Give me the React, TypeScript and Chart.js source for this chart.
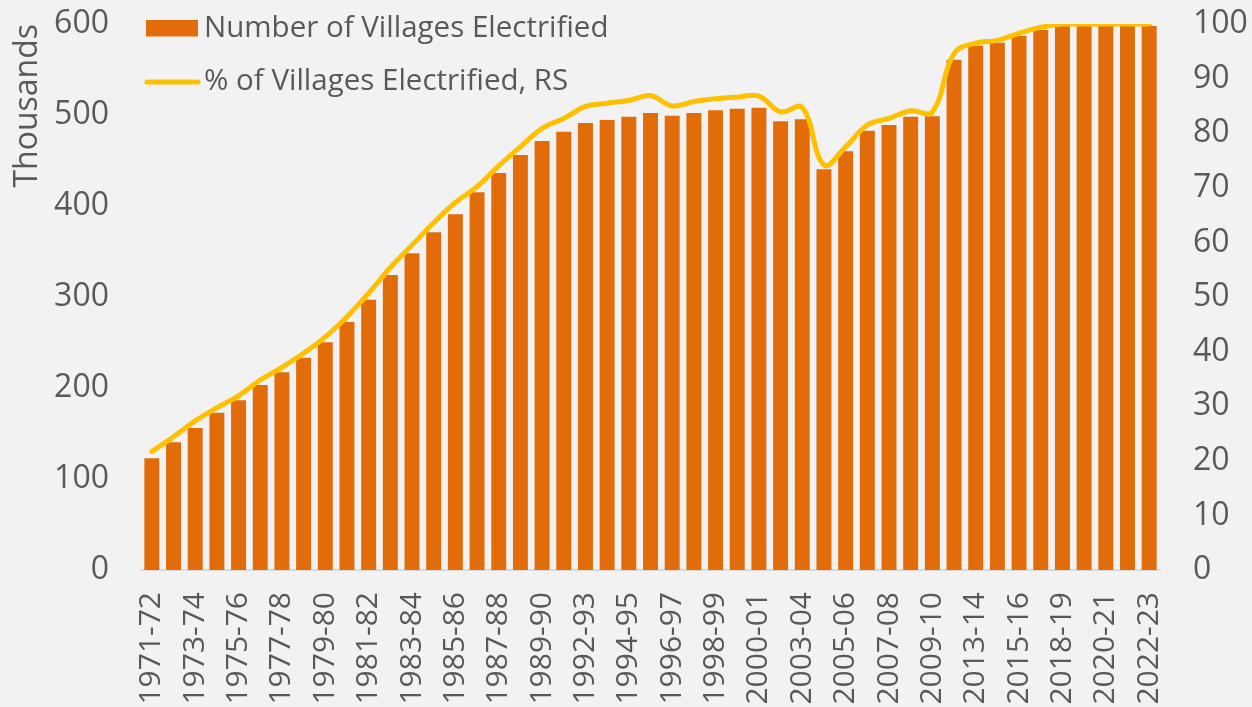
import React, { useEffect, useRef } from 'react';
import { Chart, registerables } from 'chart.js';

Chart.register(...registerables);

const categories = [
  '1971-72', '1972-73', '1973-74', '1974-75', '1975-76', '1976-77', '1977-78', '1978-79',
  '1979-80', '1980-81', '1981-82', '1982-83', '1983-84', '1984-85', '1985-86', '1986-87',
  '1987-88', '1988-89', '1989-90', '1990-91', '1992-93', '1993-94', '1994-95', '1995-96',
  '1996-97', '1997-98', '1998-99', '1999-00', '2000-01', '2001-02', '2003-04', '2004-05',
  '2005-06', '2006-07', '2007-08', '2008-09', '2009-10', '2011-12', '2013-14', '2014-15',
  '2015-16', '2017-18', '2018-19', '2019-20', '2020-21', '2021-22', '2022-23',
];

// Number of villages electrified (thousands)
const villagesElectrified = [
  122.7, 140.3, 156.0, 172.9, 186.5, 203.3, 217.2, 233.3, 250.2, 272.5, 297.0, 324.2,
  348.0, 371.1, 390.8, 415.0, 436.3, 456.0, 471.4, 481.7, 491.2, 494.5, 498.2, 502.2,
  499.3, 502.2, 505.1, 507.0, 508.1, 493.0, 495.2, 440.3, 460.1, 482.8, 489.0, 498.2,
  498.5, 560.8, 576.2, 579.5, 586.8, 593.4, 597.8, 597.8, 597.8, 597.8, 597.8,
];

// % of villages electrified (right scale)
const percentElectrified = [
  21.7, 24.4, 27.3, 29.7, 31.9, 34.8, 37.1, 39.7, 42.7, 46.4, 50.7, 55.4,
  59.5, 63.6, 67.3, 70.2, 74.0, 77.5, 80.9, 82.7, 84.9, 85.5, 86.0, 86.9,
  85.0, 85.8, 86.3, 86.6, 86.8, 83.9, 84.7, 74.2, 77.5, 81.5, 82.7, 84.1,
  83.9, 94.6, 96.5, 97.0, 98.3, 99.4, 100, 100, 100, 100, 100,
];

const seriesNames = ['Number of Villages Electrified', '% of Villages Electrified, RS'];
const leftAxisTitle = 'Thousands';

const BAR_COLOR = '#E36C0A';
const LINE_COLOR = '#FFC000';
const TEXT_COLOR = '#595959';
const BG = '#F2F2F2';
const FONT = "'Open Sans', sans-serif";

const legendPlugin = {
  id: 'insideLegend',
  afterDraw(chart: any) {
    const { ctx, chartArea } = chart;
    const x0 = chartArea.left + 5;
    ctx.save();
    ctx.font = `29.5px ${FONT}`;
    ctx.textBaseline = 'middle';
    ctx.textAlign = 'left';
    // bar item
    const y1 = chartArea.top + 4;
    ctx.fillStyle = BAR_COLOR;
    ctx.fillRect(x0, y1 - 8, 52, 16.5);
    ctx.fillStyle = TEXT_COLOR;
    ctx.fillText(chart.data.datasets[1].label, x0 + 58, y1 + 1);
    // line item
    const y2 = chartArea.top + 58;
    ctx.strokeStyle = LINE_COLOR;
    ctx.lineWidth = 5;
    ctx.lineCap = 'round';
    ctx.beginPath();
    ctx.moveTo(x0 + 1, y2);
    ctx.lineTo(x0 + 52, y2);
    ctx.stroke();
    ctx.fillStyle = TEXT_COLOR;
    ctx.fillText(chart.data.datasets[0].label, x0 + 58, y2);
    ctx.restore();
  },
};

const bgPlugin = {
  id: 'bg',
  beforeDraw(chart: any) {
    const { ctx, width, height } = chart;
    ctx.save();
    ctx.fillStyle = BG;
    ctx.fillRect(0, 0, width, height);
    ctx.restore();
  },
};

const noPad = (scale: any) => {
  scale.paddingTop = 0;
  scale.paddingBottom = 0;
  scale.paddingLeft = 0;
  scale.paddingRight = 0;
};

export default function App() {
  const canvasRef = useRef<HTMLCanvasElement | null>(null);

  useEffect(() => {
    if (!canvasRef.current) return;
    const chart = new Chart(canvasRef.current, {
      type: 'bar',
      data: {
        labels: categories,
        datasets: [
          {
            type: 'line',
            label: seriesNames[1],
            data: percentElectrified,
            yAxisID: 'y1',
            borderColor: LINE_COLOR,
            backgroundColor: LINE_COLOR,
            borderWidth: 5,
            pointRadius: 0,
            tension: 0.4,
            borderCapStyle: 'round',
            order: 0,
          } as any,
          {
            type: 'bar',
            label: seriesNames[0],
            data: villagesElectrified,
            yAxisID: 'y',
            backgroundColor: BAR_COLOR,
            borderWidth: 0,
            barPercentage: 0.69,
            categoryPercentage: 1,
            order: 1,
          },
        ],
      },
      options: {
        responsive: false,
        animation: false,
        layout: { padding: { top: 24, left: 0, right: 0, bottom: 0 } },
        plugins: {
          legend: { display: false },
          tooltip: { enabled: false },
        },
        scales: {
          x: {
            grid: { display: false, drawTicks: false },
            border: { display: true, color: '#D9D9D9', width: 2 },
            ticks: {
              autoSkip: false,
              maxRotation: 90,
              minRotation: 90,
              padding: 22,
              color: TEXT_COLOR,
              font: { family: FONT, size: 30 },
              callback: (_v: any, i: number) => (i % 2 === 0 ? categories[i] : ''),
            },
            afterFit: (scale: any) => {
              scale.height = 137;
              noPad(scale);
            },
          },
          y: {
            position: 'left',
            min: 0,
            max: 600,
            grid: { display: false, drawTicks: false },
            border: { display: false },
            ticks: {
              stepSize: 100,
              padding: 32,
              color: TEXT_COLOR,
              font: { family: FONT, size: 32 },
            },
            title: {
              display: true,
              text: leftAxisTitle,
              align: 'end',
              color: TEXT_COLOR,
              font: { family: FONT, size: 32 },
              padding: { top: 9, bottom: 0 },
            },
            afterFit: (scale: any) => {
              scale.width = 141;
              noPad(scale);
            },
          },
          y1: {
            position: 'right',
            min: 0,
            max: 100,
            grid: { display: false, drawTicks: false },
            border: { display: false },
            ticks: {
              stepSize: 10,
              padding: 33,
              color: TEXT_COLOR,
              font: { family: FONT, size: 32 },
            },
            afterFit: (scale: any) => {
              scale.width = 92;
              noPad(scale);
            },
          },
        },
      } as any,
      plugins: [bgPlugin, legendPlugin],
    });
    return () => chart.destroy();
  }, []);

  return (
    <div style={{ position: 'fixed', left: 0, top: 0, width: 1252, height: 707, background: BG }}>
      <canvas ref={canvasRef} width={1252} height={707} />
    </div>
  );
}
